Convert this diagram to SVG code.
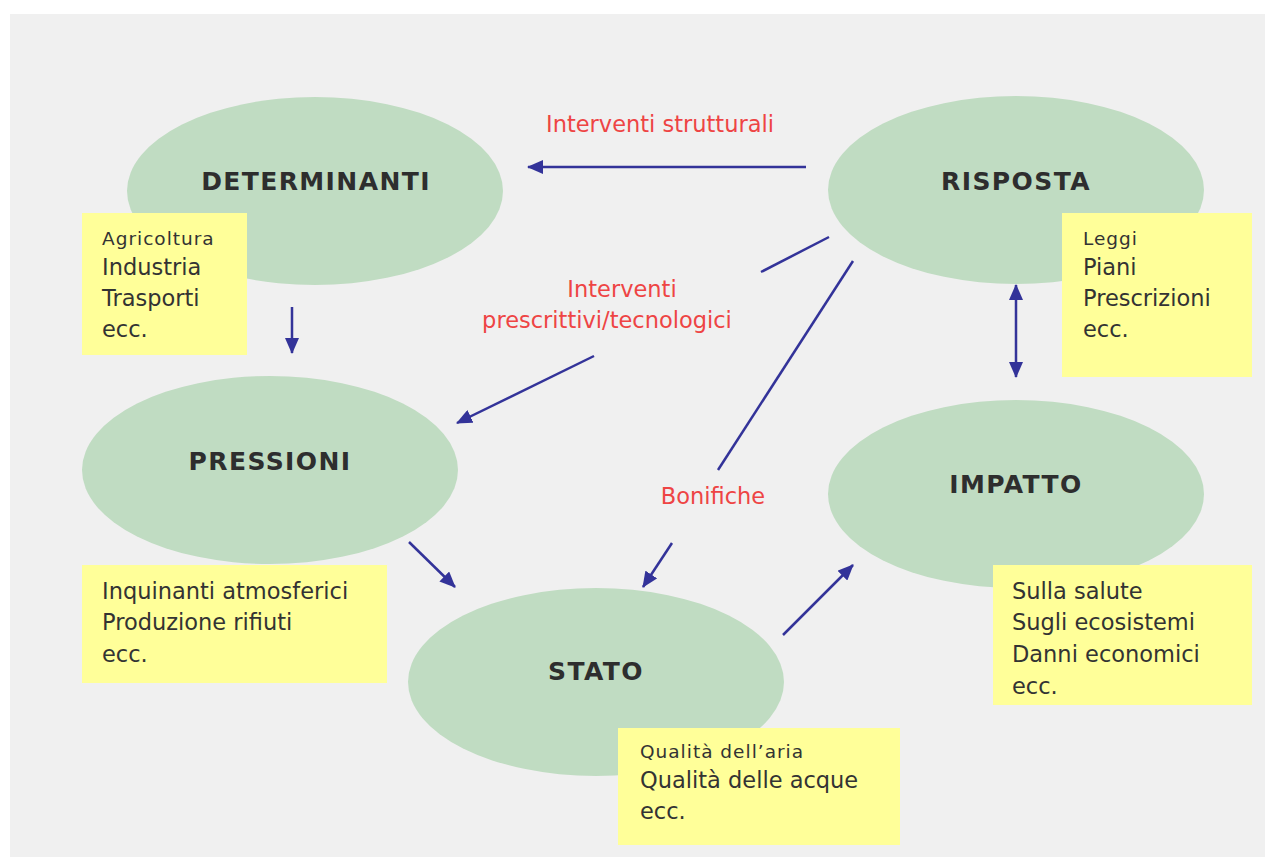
<svg xmlns="http://www.w3.org/2000/svg" width="1265" height="857" viewBox="0 0 1265 857">
<defs>
<style>
.ell{fill:#c0dcc2}
.box{fill:#ffff99}
.title{font-family:"DejaVu Sans",Verdana,sans-serif;font-weight:bold;font-size:25px;fill:#2e2e2e;text-anchor:middle;letter-spacing:1.4px}
.t{font-family:"DejaVu Sans",Verdana,sans-serif;font-size:22.5px;fill:#333333}
.s{font-size:18.5px;letter-spacing:1px}
.red{font-family:"DejaVu Sans",Verdana,sans-serif;font-size:22.5px;fill:#ee4444;text-anchor:middle}
.c{stroke:#333399;stroke-width:2.5;fill:none}
</style>
<marker id="ah" markerWidth="16" markerHeight="14" refX="15" refY="7" orient="auto" markerUnits="userSpaceOnUse">
<path d="M0,0 L16,7 L0,14 Z" fill="#333399"/>
</marker>
<marker id="as" markerWidth="16" markerHeight="14" refX="1" refY="7" orient="auto" markerUnits="userSpaceOnUse">
<path d="M16,0 L0,7 L16,14 Z" fill="#333399"/>
</marker>
</defs>
<rect x="0" y="0" width="1265" height="857" fill="#ffffff"/>
<rect x="10" y="14" width="1255" height="843" fill="#f0f0f0"/>

<g id="determinanti">
<ellipse class="ell" cx="315" cy="191" rx="188" ry="94"/>
<text class="title" x="316" y="190">DETERMINANTI</text>
</g>
<g id="risposta">
<ellipse class="ell" cx="1016" cy="190" rx="188" ry="94"/>
<text class="title" x="1016" y="190">RISPOSTA</text>
</g>
<g id="pressioni">
<ellipse class="ell" cx="270" cy="470" rx="188" ry="94"/>
<text class="title" x="270" y="470">PRESSIONI</text>
</g>
<g id="impatto">
<ellipse class="ell" cx="1016" cy="494" rx="188" ry="94"/>
<text class="title" x="1016" y="493">IMPATTO</text>
</g>
<g id="stato">
<ellipse class="ell" cx="596" cy="682" rx="188" ry="94"/>
<text class="title" x="596" y="680">STATO</text>
</g>

<g id="box-determinanti">
<rect class="box" x="82" y="213" width="165" height="142"/>
<text class="t" x="102"><tspan class="s" x="102" y="245">Agricoltura</tspan><tspan x="102" y="275">Industria</tspan><tspan x="102" y="306">Trasporti</tspan><tspan x="102" y="337">ecc.</tspan></text>
</g>
<g id="box-risposta">
<rect class="box" x="1062" y="213" width="190" height="164"/>
<text class="t" x="1083"><tspan class="s" x="1083" y="245">Leggi</tspan><tspan x="1083" y="275">Piani</tspan><tspan x="1083" y="306">Prescrizioni</tspan><tspan x="1083" y="337">ecc.</tspan></text>
</g>
<g id="box-pressioni">
<rect class="box" x="82" y="565" width="305" height="118"/>
<text class="t" x="102"><tspan x="102" y="599">Inquinanti atmosferici</tspan><tspan x="102" y="630">Produzione rifiuti</tspan><tspan x="102" y="662">ecc.</tspan></text>
</g>
<g id="box-impatto">
<rect class="box" x="993" y="565" width="259" height="140"/>
<text class="t" x="1012"><tspan x="1012" y="599">Sulla salute</tspan><tspan x="1012" y="630">Sugli ecosistemi</tspan><tspan x="1012" y="662">Danni economici</tspan><tspan x="1012" y="694">ecc.</tspan></text>
</g>
<g id="box-stato">
<rect class="box" x="618" y="728" width="282" height="117"/>
<text class="t" x="640"><tspan class="s" x="640" y="758">Qualità dell’aria</tspan><tspan x="640" y="788">Qualità delle acque</tspan><tspan x="640" y="819">ecc.</tspan></text>
</g>

<g id="labels">
<text class="red" x="660" y="132">Interventi strutturali</text>
<text class="red" x="622" y="297">Interventi</text>
<text class="red" x="607" y="328">prescrittivi/tecnologici</text>
<text class="red" x="713" y="504">Bonifiche</text>
</g>

<g id="connectors">
<line class="c" x1="806" y1="167" x2="528" y2="167" marker-end="url(#ah)"/>
<line class="c" x1="292" y1="307" x2="292" y2="353" marker-end="url(#ah)"/>
<line class="c" x1="829" y1="237" x2="761" y2="272"/>
<line class="c" x1="594" y1="356" x2="457" y2="423" marker-end="url(#ah)"/>
<line class="c" x1="853" y1="261" x2="718" y2="470"/>
<line class="c" x1="672" y1="543" x2="643" y2="587" marker-end="url(#ah)"/>
<line class="c" x1="409" y1="542" x2="455" y2="587" marker-end="url(#ah)"/>
<line class="c" x1="783" y1="635" x2="853" y2="565" marker-end="url(#ah)"/>
<line class="c" x1="1016" y1="285" x2="1016" y2="377" marker-start="url(#as)" marker-end="url(#ah)"/>
</g>
</svg>
